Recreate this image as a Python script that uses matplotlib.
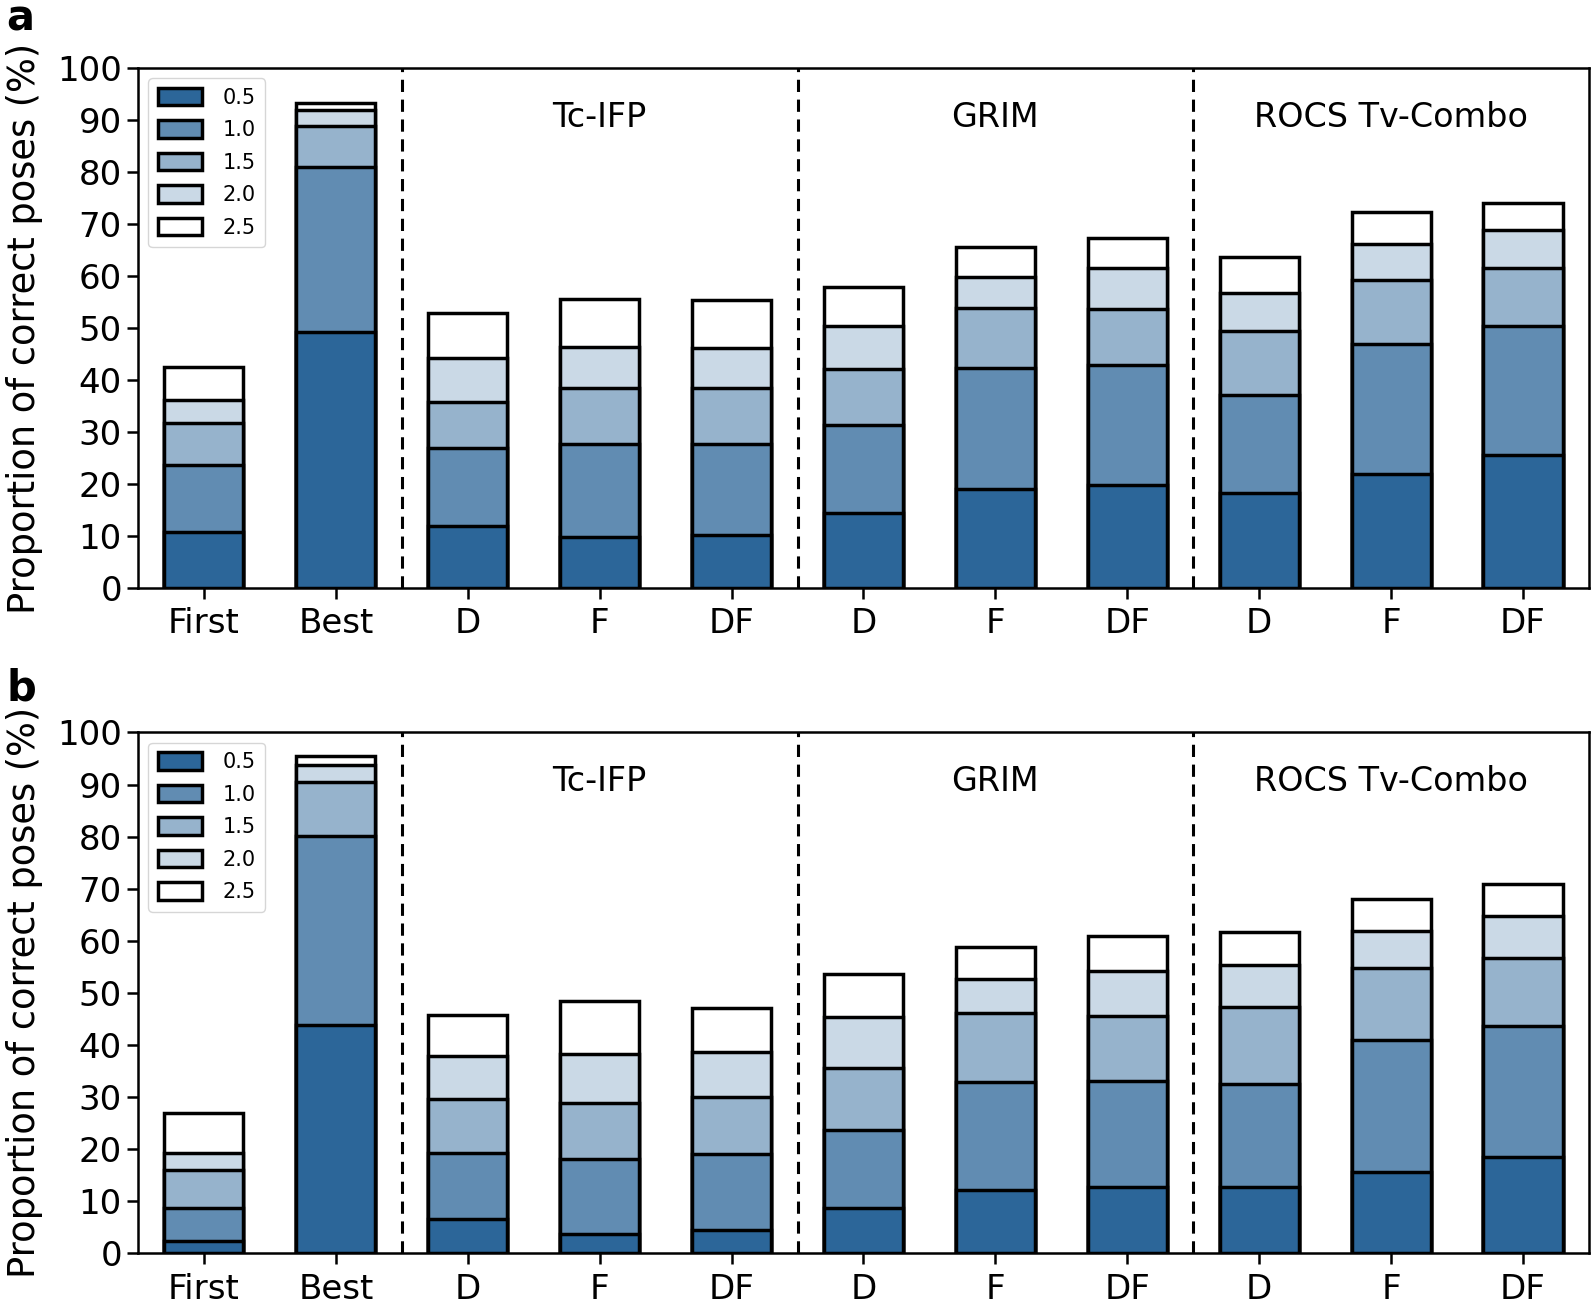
import numpy as np
import matplotlib.pyplot as plt

# categorias del eje x
categorias = ['First', 'Best', 'D', 'F', 'DF', 'D', 'F', 'DF', 'D', 'F', 'DF']
grupos = ['Tc-IFP', 'GRIM', 'ROCS Tv-Combo']
umbrales = ['0.5', '1.0', '1.5', '2.0', '2.5']

# valores acumulados (%) por umbral de RMSD, panel a
a_05 = [10.8, 49.3, 12.0, 9.8, 10.2, 14.4, 19.0, 19.9, 18.2, 21.9, 25.5]
a_10 = [23.6, 80.9, 26.9, 27.7, 27.7, 31.4, 42.3, 42.8, 37.1, 46.9, 50.4]
a_15 = [31.8, 88.8, 35.8, 38.4, 38.4, 42.1, 53.9, 53.7, 49.4, 59.3, 61.6]
a_20 = [36.1, 91.9, 44.3, 46.3, 46.1, 50.4, 59.8, 61.6, 56.7, 66.1, 68.9]
a_25 = [42.5, 93.3, 52.8, 55.6, 55.4, 57.9, 65.5, 67.4, 63.7, 72.3, 74.0]

# panel b
b_05 = [2.4, 43.9, 6.5, 3.7, 4.5, 8.6, 12.2, 12.6, 12.6, 15.5, 18.5]
b_10 = [8.7, 80.2, 19.2, 18.1, 19.1, 23.6, 32.9, 33.1, 32.4, 41.0, 43.7]
b_15 = [16.0, 90.5, 29.5, 28.8, 29.9, 35.6, 46.2, 45.5, 47.3, 54.7, 56.6]
b_20 = [19.2, 93.8, 37.8, 38.3, 38.7, 45.3, 52.7, 54.2, 55.4, 61.9, 64.7]
b_25 = [27.0, 95.5, 45.8, 48.4, 47.1, 53.6, 58.8, 60.9, 61.7, 68.0, 70.9]

colores = ['#2c6699', '#618cb2', '#96b3cc', '#cad9e6', '#ffffff']

fig = plt.figure(figsize=(15.95, 13.05), dpi=100)
ax_a = fig.add_axes([0.0865, 0.5494, 0.9097, 0.3985])
ax_b = fig.add_axes([0.0865, 0.0398, 0.9097, 0.3989])

x = np.arange(len(categorias))

for ax, series, letra, ytxt in [(ax_a, [a_05, a_10, a_15, a_20, a_25], 'a', 0.977),
                                (ax_b, [b_05, b_10, b_15, b_20, b_25], 'b', 0.463)]:
    # barras superpuestas: la mayor primero
    handles = []
    for valores, color, lab in reversed(list(zip(series, colores, umbrales))):
        h = ax.bar(x, valores, width=0.6, color=color, edgecolor='black',
                   linewidth=2.5, label=lab)
        handles.append(h)
    handles = handles[::-1]

    for xv in [1.5, 4.5, 7.5]:
        ax.axvline(xv, color='black', linestyle='--', linewidth=2.2, dashes=(4, 2.5))
    for i, g in enumerate(grupos):
        ax.text(3 + 3 * i, 90.5, g, ha='center', va='center', fontsize=24)

    ax.set_xlim(-0.5, 10.5)
    ax.set_ylim(0, 100)
    ax.set_yticks(range(0, 101, 10))
    ax.set_xticks(x)
    ax.set_xticklabels(categorias)
    ax.tick_params(labelsize=24.5, width=1.8, length=8)
    ax.tick_params(axis='x', pad=6)
    for s in ax.spines.values():
        s.set_linewidth(1.8)
    ax.set_ylabel('Proportion of correct poses (%)', fontsize=26.5, labelpad=10)
    ax.legend(handles, umbrales, loc='upper left', fontsize=15,
              handlelength=2.1, handleheight=0.9, borderpad=0.45, labelspacing=0.6,
              handletextpad=1.0)
    fig.text(0.004, ytxt, letra, fontsize=30, fontweight='bold',
             ha='left', va='baseline')

plt.savefig('out.png', dpi=100)
